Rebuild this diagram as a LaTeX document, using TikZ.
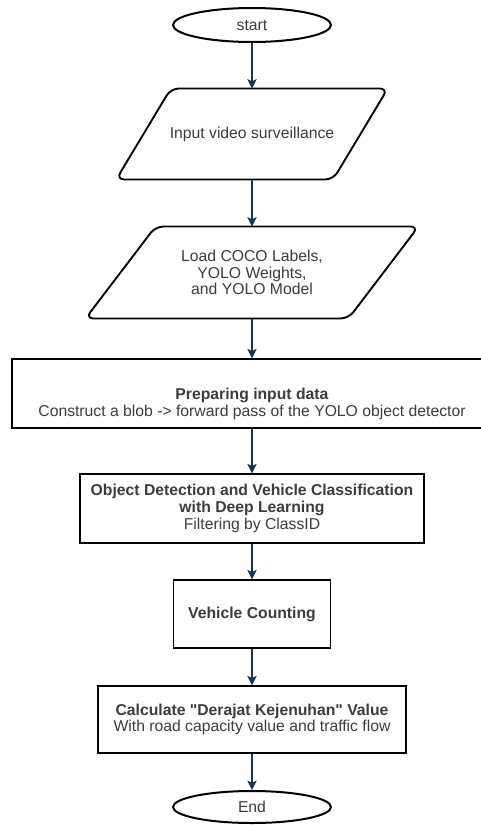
\documentclass[tikz,border=0pt]{standalone}
\usepackage{fontspec}
\setmainfont{Liberation Sans}
\usetikzlibrary{shapes.geometric,arrows.meta}

\definecolor{flowblue}{RGB}{24,54,88}
\definecolor{txtgray}{RGB}{60,60,60}

\tikzset{every picture/.style={line width=0.75pt}}
\tikzset{
  terminal/.style={draw, ellipse, line width=1.5pt, minimum width=118.5pt, minimum height=25.5pt, inner sep=0pt, text=txtgray},
  iolabel/.style={rectangle, align=center, text=txtgray},
  ioshape/.style={draw, rounded corners=6pt, line width=1.4pt},
  procbox/.style={draw, rectangle, line width=1.1pt, align=center, text=txtgray},
  flow/.style={draw=flowblue, line width=1.1pt, -{Stealth[length=7pt,width=7pt,inset=1.5pt]}}
}

\begin{document}
\begin{tikzpicture}[x=0.75pt,y=0.75pt,yscale=-1,xscale=1,every node/.style={font=\fontsize{11.8}{12.5}\selectfont}]
        \useasboundingbox (0,0) rectangle (480,825);

        %Shape: Ellipse
        \node[terminal] (start) at (252,25) {start};
        %Shape: Parallelogram
        \node[iolabel, minimum width=203pt, minimum height=67.5pt] (video) at (252,134) {Input video surveillance};
        \draw[ioshape] ([xshift=41pt]video.north west) -- (video.north east) -- ([xshift=-41pt]video.south east) -- (video.south west) -- cycle;
        %Shape: Parallelogram
        \node[iolabel, minimum width=249pt, minimum height=68.25pt] (load) at (252,272.5) {Load COCO Labels,\\ YOLO Weights,\\ and YOLO Model};
        \draw[ioshape] ([xshift=52.5pt]load.north west) -- (load.north east) -- ([xshift=-52.5pt]load.south east) -- (load.south west) -- cycle;
        %Shape: Rectangle
        \node[procbox, minimum width=360pt, minimum height=51.75pt] (prep) at (252,393.5) {};
        % Text Node
        \node[align=center, text=txtgray] (preptext) at (252,404) {\textbf{Preparing input data}\\ Construct a blob -> forward pass of the YOLO object detector};
        %Shape: Rectangle
        \node[procbox, minimum width=258pt, minimum height=51.75pt] (detect) at (252,508.5) {\textbf{Object Detection and Vehicle Classification}\\ \textbf{with Deep Learning}\\ Filtering by ClassID};
        %Shape: Rectangle
        \node[procbox, minimum width=117.75pt, minimum height=51pt] (count) at (252,614) {\textbf{Vehicle Counting}};
        %Shape: Rectangle
        \node[procbox, minimum width=231pt, minimum height=50.25pt] (calc) at (252,719.5) {\textbf{Calculate \textquotedbl Derajat Kejenuhan\textquotedbl{} Value}\\ With road capacity value and traffic flow};
        %Shape: Ellipse
        \node[terminal, minimum height=24pt] (end) at (252,807) {End};

        %Straight Lines
        \draw[flow] (start) -- (video);
        \draw[flow] (video) -- (load);
        \draw[flow] (load) -- (prep);
        \draw[flow] (prep) -- (detect);
        \draw[flow] (detect) -- (count);
        \draw[flow] (count) -- (calc);
        \draw[flow] (calc) -- (end);

\end{tikzpicture}
\end{document}
